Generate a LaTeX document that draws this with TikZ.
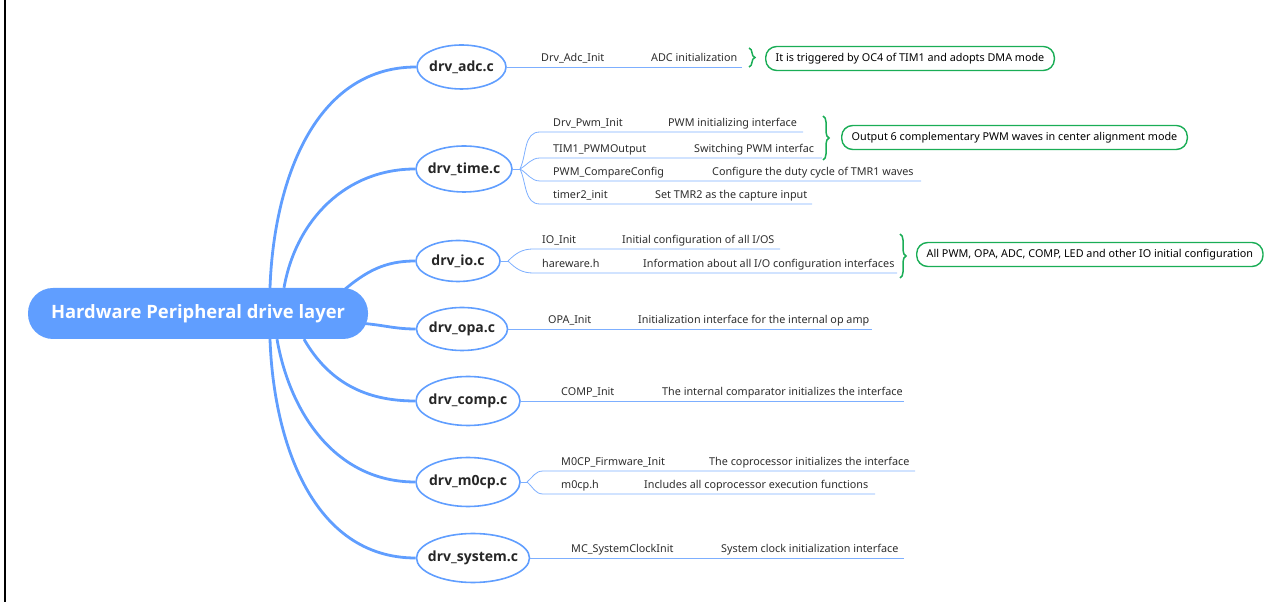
\documentclass[tikz,border=0pt]{standalone}
\usepackage{fontspec}
\setmainfont{Noto Sans}
\newfontfamily\headfont{Open Sans}
\usetikzlibrary{shapes.geometric,decorations.pathreplacing,backgrounds,positioning}
\definecolor{mapblue}{RGB}{96,158,255}
\definecolor{twigblue}{RGB}{125,175,255}
\definecolor{notegreen}{RGB}{26,173,86}
\definecolor{leafgray}{RGB}{45,45,45}
\tikzstyle{filenode}=[ellipse,draw=mapblue,line width=1.6pt,fill=white,inner xsep=-8pt,inner ysep=0pt,font=\headfont\fontsize{14}{17}\selectfont\bfseries,text=black!85]
\tikzstyle{leaftext}=[anchor=base west,inner sep=0pt,font=\fontsize{10.8}{13}\selectfont,text=leafgray]
\tikzstyle{notebox}=[draw=notegreen,line width=1.4pt,fill=white,rounded corners=11pt,anchor=west,minimum height=24pt,inner xsep=10pt,font=\fontsize{10.8}{13}\selectfont,text=black]

\begin{document}
\begin{tikzpicture}[x=1pt,y=1pt,
    trunk/.style={draw=mapblue,line width=2.8pt},
    twig/.style={draw=twigblue,line width=0.8pt},
    curly/.style={draw=notegreen,line width=1.5pt,decorate,decoration={brace,amplitude=6pt}}]
\useasboundingbox (0,0) rectangle (1271,602);
\draw[line width=1.2pt] (5,0) -- (5,602);

\node[rectangle,rounded corners=25pt,fill=mapblue,text=white,minimum width=340pt,minimum height=51pt,
    font=\headfont\fontsize{18.4}{22}\selectfont\bfseries] (hw) at (198,288.5) {Hardware Peripheral drive layer};

\node[filenode,minimum width=89pt,minimum height=44pt] (adc) at (461.5,535) {drv\_adc.c};
\node[filenode,minimum width=96pt,minimum height=46pt] (time) at (464,433) {drv\_time.c};
\node[filenode,minimum width=84pt,minimum height=41pt] (io) at (458,341) {drv\_io.c};
\node[filenode,minimum width=91pt,minimum height=43pt] (opa) at (462,273) {drv\_opa.c};
\node[filenode,minimum width=104pt,minimum height=49pt] (comp) at (468,201) {drv\_comp.c};
\node[filenode,minimum width=104pt,minimum height=49pt] (m0cp) at (468,120) {drv\_m0cp.c};
\node[filenode,minimum width=113pt,minimum height=49pt] (sys) at (473,44) {drv\_system.c};

\begin{scope}[on background layer]
\draw[trunk] ([xshift=72pt]hw.north) to[out=88,in=180] (adc.west);
\draw[trunk] ([xshift=86pt]hw.north) to[out=80,in=180] (time.west);
\draw[trunk] ([xshift=145pt,yshift=-3pt]hw.north) to[out=40,in=180] (io.west);
\draw[trunk] ([xshift=-4pt,yshift=-10pt]hw.east) to[out=-5,in=180] (opa.west);
\draw[trunk] ([xshift=106pt]hw.south) to[out=-60,in=180] (comp.west);
\draw[trunk] ([xshift=79pt]hw.south) to[out=-80,in=180] (m0cp.west);
\draw[trunk] ([xshift=72pt]hw.south) to[out=-88,in=180] (sys.west);
\end{scope}

% drv_adc.c
\coordinate (adcend) at (742,535);
\draw[twig] (adc.east) -- (adc.east -| adcend);
\node[leaftext] (adcfn) at (541,540) {Drv\_Adc\_Init};
\node[leaftext] (adcds) at (651,540) {ADC initialization};

% drv_time.c
\coordinate (tj) at (520,433);
\draw[twig] (time.east) -- (tj);
\foreach \n/\y/\e/\o in {1/470/803/65,2/444/822/30,3/421/921/-30,4/398/812/-65}{
    \coordinate (ts\n) at (540,\y);
    \coordinate (te\n) at (\e,\y);
    \draw[twig] (tj) to[out=\o,in=180] (ts\n) -- (te\n);
}
\node[leaftext] (tfn1) at (553,475) {Drv\_Pwm\_Init};
\node[leaftext] (tds1) at (668,475) {PWM initializing interface};
\node[leaftext] (tfn2) at (553,449) {TIM1\_PWMOutput};
\node[leaftext] (tds2) at (694,449) {Switching PWM interfac};
\node[leaftext] (tfn3) at (553,426) {PWM\_CompareConfig};
\node[leaftext] (tds3) at (712,426) {Configure the duty cycle of TMR1 waves};
\node[leaftext] (tfn4) at (553,403) {timer2\_init};
\node[leaftext] (tds4) at (655,403) {Set TMR2 as the capture input};

% drv_io.c
\coordinate (ij) at (508,341);
\draw[twig] (io.east) -- (ij);
\foreach \n/\y/\e/\o in {1/353/780/45,2/329/897/-45}{
    \coordinate (is\n) at (533,\y);
    \coordinate (ie\n) at (\e,\y);
    \draw[twig] (ij) to[out=\o,in=180] (is\n) -- (ie\n);
}
\node[leaftext] (ifn1) at (542,358) {IO\_Init};
\node[leaftext] (ids1) at (622,358) {Initial configuration of all I/OS};
\node[leaftext] (ifn2) at (542,334) {hareware.h};
\node[leaftext] (ids2) at (643,334) {Information about all I/O configuration interfaces};

% drv_opa.c
\coordinate (opaend) at (872,273);
\draw[twig] (opa.east) -- (opa.east -| opaend);
\node[leaftext] (opafn) at (548,278) {OPA\_Init};
\node[leaftext] (opads) at (638,278) {Initialization interface for the internal op amp};

% drv_comp.c
\coordinate (compend) at (904,201);
\draw[twig] (comp.east) -- (comp.east -| compend);
\node[leaftext] (compfn) at (561,206) {COMP\_Init};
\node[leaftext] (compds) at (662,206) {The internal comparator initializes the interface};

% drv_m0cp.c
\coordinate (mj) at (527,120);
\draw[twig] (m0cp.east) -- (mj);
\foreach \n/\y/\e/\o in {1/131/915/40,2/108/875/-40}{
    \coordinate (ms\n) at (543,\y);
    \coordinate (me\n) at (\e,\y);
    \draw[twig] (mj) to[out=\o,in=180] (ms\n) -- (me\n);
}
\node[leaftext] (mfn1) at (561,136) {M0CP\_Firmware\_Init};
\node[leaftext] (mds1) at (709,136) {The coprocessor initializes the interface};
\node[leaftext] (mfn2) at (561,113) {m0cp.h};
\node[leaftext] (mds2) at (644,113) {Includes all coprocessor execution functions};

% drv_system.c
\coordinate (sysend) at (904,44);
\draw[twig] (sys.east) -- (sys.east -| sysend);
\node[leaftext] (sysfn) at (571,49) {MC\_SystemClockInit};
\node[leaftext] (sysds) at (721,49) {System clock initialization interface};

% notes
\coordinate (b1a) at (749,554);
\coordinate (b1b) at (749,535);
\draw[curly] (b1a) -- (b1b);
\node[notebox] (note1) at (765,543.5) {It is triggered by OC4 of TIM1 and adopts DMA mode};
\coordinate (b2a) at (823,486);
\coordinate (b2b) at (823,442);
\draw[curly] (b2a) -- (b2b);
\node[notebox] (note2) at (841,464.5) {Output 6 complementary PWM waves in center alignment mode};
\coordinate (b3a) at (900,368);
\coordinate (b3b) at (900,324);
\draw[curly] (b3a) -- (b3b);
\node[notebox] (note3) at (916,347.5) {All PWM, OPA, ADC, COMP, LED and other IO initial configuration};
\end{tikzpicture}
\end{document}
